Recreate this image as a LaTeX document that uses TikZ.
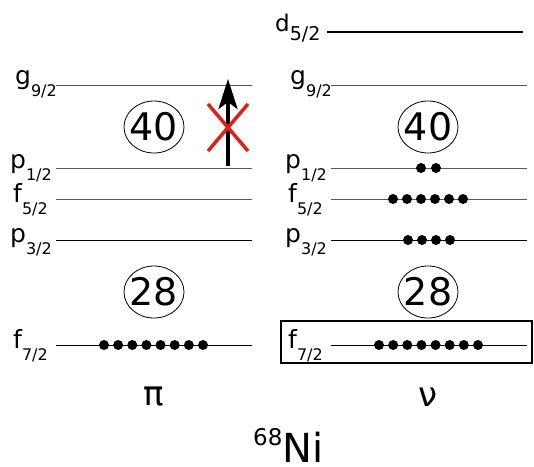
\documentclass[tikz,border=0pt]{standalone}
\usepackage{fontspec}
\setmainfont{DejaVu Sans}
\usetikzlibrary{arrows.meta}
\newcommand{\lev}[3]{{\fontsize{#3}{#3}\selectfont #1}\raisebox{-12.5pt}{\fontsize{16}{16}\selectfont #2}}
\begin{document}
\begin{tikzpicture}[x=1pt,y=-1pt,
  lvl/.style={line width=0.9pt,draw=black!65},
  lvldark/.style={line width=0.9pt,draw=black},
  lab/.style={anchor=base west,inner sep=0pt},
  magic/.style={inner sep=0pt,font=\fontsize{38}{38}\selectfont},
  ring/.style={line width=0.8pt},
  big/.style={inner sep=0pt,font=\fontsize{34}{34}\selectfont},
  dot/.style={fill=black}]
\useasboundingbox (0,0) rectangle (534,466);
% ---------- proton column ----------
\foreach \name/\y/\st in {pg/85/lvl,pp1/168/lvl,pf5/199/lvl,pp3/240/lvldark,pf7/345/lvldark}{
  \coordinate (\name a) at (56,\y);
  \coordinate (\name b) at (252,\y);
  \draw[\st] (\name a) -- (\name b);
}
\node[lab] (lpg) at (15,84) {\lev{g}{9/2}{25}};
\node[lab] (lpp1) at (10,168) {\lev{p}{1/2}{25}};
\node[lab] (lpf5) at (13,202) {\lev{f}{5/2}{25}};
\node[lab] (lpp3) at (10,242) {\lev{p}{3/2}{25}};
\node[lab] (lpf7) at (13,348) {\lev{f}{7/2}{25}};
\node[magic] (p40) at (154,127) {40};
\draw[ring] (p40.center) ellipse (30 and 26);
\node[magic] (p28) at (154,292) {28};
\draw[ring] (p28.center) ellipse (30 and 26);
\foreach \i in {0,...,7}{\fill[dot] (104+14.14*\i,345) circle (5pt);}
\coordinate (arrs) at (228,166);
\coordinate (arre) at (228,79);
\draw[line width=4pt,-{Stealth[length=30pt,width=19pt,inset=7pt]}] (arrs) -- (arre);
\coordinate (x1) at (208,104);
\coordinate (x2) at (248,151);
\coordinate (x3) at (208,151);
\coordinate (x4) at (248,104);
\draw[line width=3.5pt,draw={rgb,255:red,222;green,32;blue,24}] (x1) -- (x2) (x3) -- (x4);
\node[big] (pi) at (154,397) {π};
% ---------- neutron column ----------
\coordinate (nda) at (327,32);
\coordinate (ndb) at (523,32);
\draw[line width=1.8pt] (nda) -- (ndb);
\foreach \name/\y/\st in {ng/85/lvl,np1/168/lvl,nf5/199/lvl,np3/240/lvldark,nf7/345/lvldark}{
  \coordinate (\name a) at (331,\y);
  \coordinate (\name b) at (527,\y);
  \draw[\st] (\name a) -- (\name b);
}
\node[lab] (lnd) at (275,31) {{\fontsize{23}{23}\selectfont d}\raisebox{-9pt}{\fontsize{19}{19}\selectfont 5/2}};
\node[lab] (lng) at (290,84) {\lev{g}{9/2}{25}};
\node[lab] (lnp1) at (285,168) {\lev{p}{1/2}{25}};
\node[lab] (lnf5) at (288,202) {\lev{f}{5/2}{25}};
\node[lab] (lnp3) at (285,242) {\lev{p}{3/2}{25}};
\node[lab] (lnf7) at (288,348) {\lev{f}{7/2}{25}};
\node[magic] (n40) at (428,127) {40};
\draw[ring] (n40.center) ellipse (30 and 26);
\node[magic] (n28) at (428,292) {28};
\draw[ring] (n28.center) ellipse (30 and 26);
\foreach \i in {0,1}{\fill[dot] (421+15*\i,168) circle (5pt);}
\foreach \i in {0,...,5}{\fill[dot] (393+14*\i,199) circle (5pt);}
\foreach \i in {0,...,3}{\fill[dot] (408+14*\i,240) circle (5pt);}
\foreach \i in {0,...,7}{\fill[dot] (379+14.14*\i,345) circle (5pt);}
\coordinate (bx1) at (281,321);
\coordinate (bx2) at (532,363);
\draw[line width=1.5pt] (bx1) rectangle (bx2);
\node[big] (nu) at (428,397) {ν};
% ---------- nucleus ----------
\node[anchor=base west,inner sep=0pt] (ni) at (253,462) {\raisebox{17pt}{\fontsize{23}{23}\selectfont 68}{\fontsize{40}{40}\selectfont Ni}};
\end{tikzpicture}
\end{document}
